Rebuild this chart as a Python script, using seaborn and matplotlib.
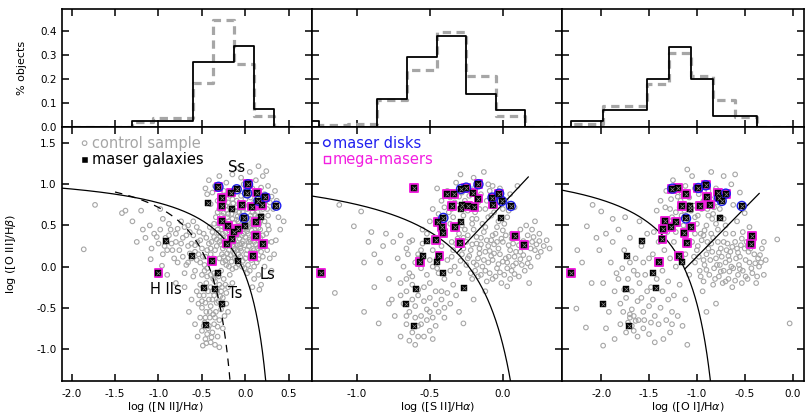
import numpy as np
import pandas as pd
import matplotlib
matplotlib.use("Agg")
import matplotlib.pyplot as plt
import matplotlib.ticker as mticker
import seaborn as sns

# === HISTOGRAMMES (fraction d'objets par bin) ===
nii_edges = [-1.99, -1.76, -1.53, -1.30, -1.065, -0.83, -0.60, -0.368, -0.136, 0.095, 0.325, 0.555]
nii_hist_masers = [0, 0, 0, 0.025, 0.025, 0.025, 0.271, 0.271, 0.337, 0.073, 0]
nii_hist_control = [0, 0, 0, 0.02, 0.035, 0.035, 0.183, 0.446, 0.26, 0.045, 0]

sii_edges = [-1.46, -1.26, -1.06, -0.86, -0.655, -0.45, -0.25, -0.05, 0.155, 0.36]
sii_hist_masers = [0.025, 0, 0, 0.115, 0.29, 0.38, 0.135, 0.07, 0]
sii_hist_control = [0, 0.005, 0.01, 0.11, 0.235, 0.395, 0.213, 0.045, 0]

oi_edges = [-2.40, -2.32, -1.98, -1.75, -1.52, -1.29, -1.06, -0.83, -0.60, -0.375, -0.15, 0.08]
oi_hist_masers = [0, 0.025, 0.07, 0.07, 0.2, 0.335, 0.2, 0.045, 0.045, 0, 0]
oi_hist_control = [0, 0.01, 0.085, 0.085, 0.18, 0.31, 0.21, 0.11, 0.042, 0, 0]

# === CONTROL SAMPLE (cercles gris) ===
nii_control = [
    (-0.30, 0.70), (-0.25, 0.65), (-0.18, 0.72), (-0.12, 0.68), (-0.05, 0.62), (0.02, 0.70), (0.08, 0.66),
    (0.14, 0.60), (-0.28, 0.58), (-0.22, 0.52), (-0.15, 0.58), (-0.08, 0.55), (0.00, 0.52), (0.05, 0.58),
    (0.11, 0.50), (0.17, 0.45), (-0.32, 0.45), (-0.26, 0.40), (-0.19, 0.44), (-0.12, 0.40), (-0.04, 0.45),
    (0.03, 0.40), (0.09, 0.36), (0.15, 0.32), (-0.30, 0.30), (-0.24, 0.25), (-0.17, 0.30), (-0.10, 0.26),
    (-0.03, 0.31), (0.04, 0.25), (0.10, 0.20), (0.18, 0.18), (-0.27, 0.15), (-0.20, 0.10), (-0.13, 0.16),
    (-0.06, 0.12), (0.01, 0.15), (0.07, 0.08), (0.13, 0.05), (-0.22, 0.02), (-0.15, -0.03), (-0.08, 0.03),
    (-0.01, -0.02), (0.05, -0.05), (-0.34, 0.60), (-0.36, 0.36), (-0.35, 0.20), (0.20, 0.70), (0.22, 0.55),
    (0.24, 0.40), (0.21, 0.28), (-0.20, 0.78), (-0.10, 0.80), (0.00, 0.82), (0.10, 0.78), (0.18, 0.84),
    (-0.28, 0.84), (-0.27, 0.62), (-0.21, 0.60), (-0.16, 0.64), (-0.09, 0.61), (-0.02, 0.58), (0.06, 0.62),
    (0.12, 0.56), (-0.24, 0.47), (-0.17, 0.50), (-0.11, 0.47), (-0.06, 0.50), (0.01, 0.47), (0.07, 0.44),
    (0.13, 0.41), (-0.29, 0.37), (-0.21, 0.35), (-0.14, 0.36), (-0.07, 0.34), (0.00, 0.36), (0.06, 0.31),
    (0.12, 0.27), (-0.26, 0.22), (-0.19, 0.20), (-0.12, 0.22), (-0.05, 0.19), (0.02, 0.20), (0.08, 0.14),
    (-0.23, 0.07), (-0.16, 0.06), (-0.10, 0.09), (-0.03, 0.07), (0.03, 0.02), (-0.18, 0.26), (-0.08, 0.15),
    (-0.01, 0.26), (0.10, 0.30), (-0.13, 0.53), (-0.03, 0.66), (0.04, 0.48), (0.16, 0.52), (-0.22, 0.69),
    (0.09, 0.72), (-0.31, 0.52), (-0.33, 0.25), (-0.11, 0.72), (0.14, 0.66), (-0.04, 0.38), (0.16, 0.24),
    (-0.25, 0.33), (-0.07, 0.27),
    (-0.29, 0.76), (-0.23, 0.74), (-0.14, 0.77), (-0.06, 0.71), (0.04, 0.75), (0.12, 0.71), (0.19, 0.62),
    (-0.26, 0.56), (-0.19, 0.55), (-0.10, 0.57), (-0.01, 0.62), (0.08, 0.53), (0.15, 0.47), (0.20, 0.38),
    (-0.31, 0.41), (-0.23, 0.42), (-0.15, 0.42), (-0.08, 0.43), (0.02, 0.43), (0.10, 0.41), (0.17, 0.35),
    (-0.28, 0.27), (-0.20, 0.29), (-0.13, 0.30), (-0.04, 0.28), (0.05, 0.33), (0.14, 0.22), (0.20, 0.12),
    (-0.25, 0.12), (-0.17, 0.14), (-0.09, 0.20), (0.00, 0.10), (0.09, 0.22), (0.15, 0.09), (-0.19, 0.00),
    (-0.11, -0.01), (-0.04, 0.00), (0.02, -0.08), (0.10, 0.00), (-0.26, 0.05), (-0.30, 0.10), (-0.33, 0.33),
    (-0.32, 0.66), (-0.24, 0.80), (-0.15, 0.82), (-0.05, 0.86), (0.06, 0.84), (0.14, 0.88), (0.25, 0.70),
    (0.26, 0.62), (0.27, 0.45), (0.24, 0.30), (-0.12, 0.10), (-0.02, 0.40), (0.07, 0.50), (-0.16, 0.46),
    (-0.27, 0.49), (-0.20, 0.64), (-0.07, 0.66), (0.03, 0.56), (0.11, 0.63), (0.17, 0.56), (-0.09, 0.38),
    (0.04, 0.30), (-0.21, 0.16), (-0.06, 0.22), (0.06, 0.17), (-0.14, 0.25), (0.13, 0.35), (-0.36, 0.52),
    (-0.38, 0.42), (-0.39, 0.30), (-0.40, 0.22), (-0.37, 0.10),
    (-0.42, 1.05), (-0.35, 0.98), (-0.30, 1.10), (-0.22, 1.02), (-0.15, 1.12), (-0.05, 1.08), (0.05, 1.15),
    (0.12, 1.05), (0.20, 1.10), (0.26, 0.98), (-0.38, 0.90), (-0.25, 0.92), (-0.12, 0.95), (0.00, 0.92),
    (0.08, 0.95), (0.22, 0.88), (0.30, 0.85), (0.34, 0.92), (-0.44, 0.88), (-0.08, 1.20), (0.15, 1.22),
    (0.24, 1.16), (-0.18, 0.86), (0.04, 0.88), (0.28, 0.78), (0.32, 0.70), (-0.40, 0.76), (-0.46, 0.95),
    (-0.02, 1.00), (0.18, 0.96), (-0.32, 0.80), (0.36, 0.80),
    (-1.10, 0.50), (-1.05, 0.40), (-0.98, 0.45), (-0.92, 0.35), (-0.88, 0.52), (-0.85, 0.28), (-0.80, 0.40),
    (-0.76, 0.20), (-0.72, 0.35), (-0.70, 0.48), (-0.66, 0.25), (-0.62, 0.10), (-0.60, 0.38), (-0.58, 0.18),
    (-0.55, 0.30), (-0.52, 0.05), (-0.50, 0.22), (-0.48, 0.40), (-0.46, 0.12), (-0.44, -0.02), (-0.42, 0.28),
    (-0.40, 0.15), (-0.38, 0.05), (-0.36, -0.08), (-0.90, 0.20), (-0.95, 0.15), (-1.00, 0.28), (-0.82, 0.10),
    (-0.78, 0.05), (-0.68, 0.02), (-0.64, 0.42), (-0.74, 0.55), (-0.56, 0.48), (-0.50, -0.10), (-0.58, -0.05),
    (-0.70, -0.08), (-0.86, 0.45), (-0.95, 0.58), (-0.60, 0.55), (-0.53, 0.42), (-0.45, 0.35), (-0.41, 0.48),
    (-1.15, 0.35), (-1.08, 0.22), (-0.47, 0.02), (-0.54, 0.15), (-0.62, 0.28), (-0.72, 0.12), (-0.80, 0.30),
    (-0.66, 0.50), (-0.88, 0.38), (-0.78, 0.46), (-0.68, 0.38), (-0.58, 0.26), (-0.52, 0.32), (-0.64, 0.16),
    (-0.74, 0.28), (-0.84, 0.20), (-0.56, 0.08), (-0.49, 0.12), (-0.44, 0.20), (-1.02, 0.36), (-0.93, 0.25),
    (-0.66, 0.05), (-0.60, -0.12),
    (-0.45, -0.20), (-0.40, -0.25), (-0.35, -0.18), (-0.30, -0.22), (-0.25, -0.15), (-0.20, -0.25),
    (-0.48, -0.35), (-0.42, -0.40), (-0.36, -0.35), (-0.31, -0.42), (-0.26, -0.38), (-0.50, -0.50),
    (-0.45, -0.55), (-0.40, -0.48), (-0.34, -0.55), (-0.28, -0.52), (-0.22, -0.45), (-0.52, -0.62),
    (-0.47, -0.68), (-0.41, -0.62), (-0.36, -0.70), (-0.30, -0.65), (-0.50, -0.78), (-0.44, -0.82),
    (-0.38, -0.80), (-0.32, -0.85), (-0.46, -0.88), (-0.40, -0.92), (-0.35, -0.95), (-0.54, -0.45),
    (-0.56, -0.30), (-0.52, -0.22), (-0.33, -0.10), (-0.28, -0.05), (-0.18, -0.10), (-0.15, -0.20),
    (-0.22, -0.32), (-0.38, -0.30), (-0.44, -0.12), (-0.48, -0.25), (-0.28, -0.30), (-0.24, -0.60),
    (-0.26, -0.75), (-0.55, -0.85), (-0.30, -0.98), (-0.58, -0.70), (-0.42, -0.72), (-0.37, -0.58),
    (-0.33, -0.44), (-0.46, -0.44), (-0.20, -0.55), (-0.49, -0.96), (-0.43, -0.30), (-0.38, -0.40),
    (-0.33, -0.30), (-0.41, -0.55), (-0.46, -0.62), (-0.35, -0.62), (-0.43, -0.75), (-0.39, -0.86),
    (-0.45, -0.93), (-0.29, -0.36), (-0.50, -0.42), (-0.37, -0.15), (-0.31, -0.12), (-0.27, -0.25),
    (-0.23, -0.22), (-0.40, -0.10), (-0.47, -0.05), (-0.53, -0.35), (-0.32, -0.73), (-0.48, -0.72),
    (0.25, 0.20), (0.30, 0.30), (0.35, 0.32), (0.40, 0.45), (0.28, 0.10), (0.22, 0.00), (0.15, -0.10),
    (0.10, -0.15), (0.18, -0.22), (0.30, -0.05), (0.38, 0.60), (0.44, 0.55), (0.26, 0.50), (0.33, 0.15),
    (0.16, -0.28), (0.08, -0.25),
    (-1.86, 0.21), (-1.73, 0.75), (-1.42, 0.65), (-1.38, 0.68), (-1.20, 0.68), (-1.09, 0.09), (-0.96, 0.01),
    (-1.18, 0.45), (-1.30, 0.55), (-0.90, -0.10), (-0.80, -0.20), (-0.70, -0.25), (-0.62, -0.40),
    (-0.65, -0.55), (-1.25, 0.30), (-0.98, 0.70),
]

sii_control = [
    (-0.42, 0.80), (-0.38, 0.92), (-0.35, 0.70), (-0.32, 1.02), (-0.30, 0.85), (-0.27, 0.62), (-0.25, 0.95),
    (-0.22, 0.75), (-0.20, 1.08), (-0.18, 0.58), (-0.15, 0.88), (-0.12, 0.70), (-0.10, 1.00), (-0.08, 0.62),
    (-0.05, 0.82), (-0.02, 0.95), (0.00, 0.70), (0.03, 0.60), (0.05, 0.88), (-0.40, 0.60), (-0.36, 0.52),
    (-0.33, 0.78), (-0.28, 0.50), (-0.24, 0.68), (-0.17, 0.78), (-0.14, 0.52), (-0.07, 0.74), (-0.03, 0.55),
    (0.02, 0.80), (-0.29, 1.12), (-0.13, 1.15), (-0.45, 0.95), (-0.48, 0.70), (-0.50, 0.55), (0.08, 0.72),
    (0.10, 0.98), (-0.23, 0.86), (-0.09, 0.92), (-0.37, 0.66), (-0.19, 0.66), (-0.40, 0.72), (-0.34, 0.60),
    (-0.31, 0.74), (-0.26, 0.80), (-0.21, 0.58), (-0.16, 0.70), (-0.11, 0.80), (-0.06, 0.66), (-0.01, 0.76),
    (0.04, 0.68), (-0.28, 0.90), (-0.19, 0.96), (-0.07, 0.98), (-0.44, 0.64), (-0.36, 0.84), (-0.21, 0.52),
    (-0.10, 0.60), (0.01, 0.52),
    (-0.30, 0.40), (-0.25, 0.30), (-0.20, 0.45), (-0.15, 0.35), (-0.10, 0.25), (-0.05, 0.40), (0.00, 0.30),
    (0.05, 0.20), (0.10, 0.35), (0.15, 0.25), (0.20, 0.30), (-0.28, 0.15), (-0.22, 0.20), (-0.17, 0.10),
    (-0.12, 0.18), (-0.07, 0.08), (-0.02, 0.15), (0.03, 0.05), (0.08, 0.12), (0.13, 0.02), (0.18, 0.10),
    (-0.25, 0.02), (-0.19, -0.05), (-0.14, 0.00), (-0.09, -0.08), (-0.04, -0.02), (0.01, -0.10),
    (0.06, -0.05), (0.11, -0.12), (-0.21, -0.15), (-0.11, -0.18), (-0.01, -0.20), (-0.32, 0.28),
    (-0.27, 0.35), (-0.18, 0.28), (-0.13, 0.42), (-0.08, 0.32), (-0.03, 0.22), (0.02, 0.38), (0.07, 0.28),
    (0.12, 0.18), (0.17, 0.38), (0.22, 0.20), (-0.24, 0.10), (-0.16, 0.22), (-0.06, 0.16), (0.04, 0.12),
    (0.09, 0.04), (0.14, 0.14), (-0.20, 0.05), (-0.10, 0.05), (0.00, 0.06), (-0.15, -0.10), (-0.05, -0.12),
    (0.05, -0.15), (0.25, 0.40), (0.28, 0.25), (0.24, 0.12), (0.19, 0.00), (-0.35, 0.12), (-0.33, 0.00),
    (-0.30, -0.08), (-0.26, 0.45), (-0.04, 0.48), (0.12, 0.45), (0.16, 0.50),
    (-0.27, 0.22), (-0.21, 0.27), (-0.16, 0.16), (-0.11, 0.32), (-0.06, 0.27), (-0.01, 0.34), (0.04, 0.26),
    (0.09, 0.18), (0.14, 0.31), (0.19, 0.22), (-0.29, 0.07), (-0.23, 0.13), (-0.18, 0.02), (-0.13, 0.08),
    (-0.08, 0.13), (-0.03, 0.03), (0.02, 0.10), (0.07, 0.01), (0.12, 0.09), (0.17, 0.04), (-0.22, -0.08),
    (-0.17, -0.12), (-0.12, -0.05), (-0.07, -0.15), (-0.02, -0.07), (0.03, -0.02), (0.08, -0.09),
    (0.15, -0.05), (-0.24, 0.38), (-0.18, 0.36), (-0.12, 0.48), (-0.07, 0.38), (0.00, 0.44), (0.06, 0.40),
    (0.11, 0.26), (0.21, 0.36), (0.23, 0.27), (0.26, 0.18), (0.20, 0.45), (-0.34, 0.20), (-0.31, 0.34),
    (-0.04, 0.30), (0.06, 0.34), (-0.09, 0.19), (-0.15, 0.27),
    (-0.80, 0.40), (-0.75, 0.30), (-0.70, 0.38), (-0.66, 0.22), (-0.62, 0.32), (-0.58, 0.15), (-0.55, 0.28),
    (-0.52, 0.40), (-0.48, 0.20), (-0.45, 0.10), (-0.42, 0.25), (-0.38, 0.08), (-0.72, 0.10), (-0.68, 0.00),
    (-0.64, -0.08), (-0.60, 0.05), (-0.56, -0.02), (-0.52, -0.10), (-0.48, 0.00), (-0.44, -0.08),
    (-0.40, -0.15), (-0.36, -0.05), (-0.70, -0.20), (-0.66, -0.30), (-0.62, -0.22), (-0.58, -0.35),
    (-0.54, -0.25), (-0.50, -0.38), (-0.46, -0.30), (-0.42, -0.40), (-0.38, -0.32), (-0.34, -0.22),
    (-0.68, -0.45), (-0.64, -0.55), (-0.60, -0.48), (-0.56, -0.60), (-0.52, -0.52), (-0.48, -0.62),
    (-0.44, -0.55), (-0.40, -0.50), (-0.66, -0.70), (-0.62, -0.80), (-0.58, -0.72), (-0.54, -0.85),
    (-0.50, -0.78), (-0.46, -0.72), (-0.70, -0.85), (-0.64, -0.90), (-0.74, -0.60), (-0.76, -0.40),
    (-0.78, -0.15), (-0.84, 0.05), (-0.82, 0.25), (-0.46, 0.35), (-0.40, 0.40), (-0.35, 0.30),
    (-0.32, -0.35), (-0.36, -0.45), (-0.30, -0.55), (-0.55, 0.45), (-0.60, -0.95), (-0.58, 0.10),
    (-0.50, 0.08), (-0.65, 0.15), (-0.62, -0.12), (-0.58, -0.28), (-0.54, -0.42), (-0.50, -0.55),
    (-0.46, -0.46), (-0.42, -0.30), (-0.60, -0.62), (-0.56, -0.70), (-0.52, -0.65), (-0.62, -0.40),
    (-0.66, -0.15), (-0.50, -0.20), (-0.45, -0.02), (-0.56, 0.20), (-0.64, 0.30), (-0.70, -0.35),
    (-0.66, -0.60), (-0.58, -0.85), (-0.48, -0.88), (-0.40, -0.62),
    (-1.12, 0.75), (-0.97, 0.67), (-1.02, 0.49), (-0.90, 0.42), (-0.92, 0.30), (-0.88, 0.15), (-0.78, -0.45),
    (-0.85, -0.69), (-0.95, 0.05), (-0.88, -0.25), (0.25, 0.31), (0.30, 0.32), (0.03, -0.24), (-0.27, -0.69),
    (-0.20, -0.40), (-0.12, -0.30), (0.18, -0.20), (-1.15, -0.32), (-0.95, -0.55), (0.22, 0.55), (0.32, 0.22),
]

oi_control = [
    (-1.38, 0.80), (-1.32, 0.92), (-1.28, 0.70), (-1.25, 1.05), (-1.20, 0.85), (-1.16, 0.62), (-1.12, 0.98),
    (-1.08, 0.75), (-1.05, 1.10), (-1.02, 0.60), (-0.98, 0.88), (-0.95, 0.70), (-0.92, 1.02), (-0.88, 0.62),
    (-0.85, 0.82), (-0.80, 0.95), (-0.76, 0.70), (-0.72, 0.58), (-0.68, 0.88), (-0.64, 1.00), (-1.35, 0.55),
    (-1.30, 0.48), (-1.26, 0.60), (-1.22, 0.42), (-1.18, 0.72), (-1.14, 0.50), (-1.10, 0.58), (-1.04, 0.45),
    (-1.00, 0.52), (-0.96, 0.40), (-0.90, 0.50), (-0.84, 0.58), (-0.78, 0.45), (-0.74, 0.82), (-0.70, 0.40),
    (-0.62, 0.75), (-0.58, 0.55), (-0.55, 0.90), (-0.50, 0.65), (-1.42, 0.68), (-1.45, 0.42), (-1.40, 0.30),
    (-1.10, 1.18), (-0.85, 1.15), (-0.72, 1.10), (-0.60, 1.12), (-1.20, 0.95), (-0.94, 0.78), (-1.06, 0.68),
    (-0.82, 0.72), (-1.34, 0.38), (-1.24, 0.30), (-1.33, 0.72), (-1.27, 0.82), (-1.22, 0.66), (-1.17, 0.80),
    (-1.13, 0.68), (-1.08, 0.84), (-1.03, 0.74), (-0.99, 0.62), (-0.93, 0.80), (-0.89, 0.70), (-0.83, 0.64),
    (-0.79, 0.78), (-0.75, 0.60), (-1.29, 0.56), (-1.20, 0.52), (-1.12, 0.45), (-1.02, 0.40), (-0.92, 0.44),
    (-0.80, 0.52), (-0.70, 0.50), (-1.16, 0.90), (-1.02, 0.95), (-0.88, 0.92), (-1.31, 0.42), (-1.25, 0.46),
    (-1.05, 0.30), (-1.00, 0.20), (-0.95, 0.32), (-0.90, 0.15), (-0.85, 0.28), (-0.80, 0.10), (-0.75, 0.22),
    (-0.70, 0.05), (-0.65, 0.18), (-0.60, 0.30), (-0.55, 0.12), (-0.50, 0.22), (-0.45, 0.05), (-0.40, 0.15),
    (-0.35, 0.00), (-1.02, 0.05), (-0.97, -0.05), (-0.92, 0.02), (-0.87, -0.10), (-0.82, -0.02),
    (-0.77, -0.12), (-0.72, -0.05), (-0.67, -0.15), (-0.62, -0.02), (-0.57, -0.10), (-0.52, -0.05),
    (-0.47, -0.15), (-0.42, -0.08), (-0.98, 0.12), (-0.88, 0.22), (-0.78, 0.30), (-0.68, 0.28), (-0.58, 0.22),
    (-0.48, 0.30), (-0.93, -0.18), (-0.83, -0.22), (-0.73, -0.20), (-0.63, -0.25), (-0.53, -0.20),
    (-0.38, -0.20), (-0.32, 0.22), (-0.30, -0.10), (-0.62, 0.40), (-0.52, 0.42), (-0.42, 0.38), (-0.85, 0.40),
    (-0.76, 0.02), (-0.66, 0.08), (-0.56, 0.02), (-0.46, 0.18), (-0.36, 0.10), (-0.28, 0.08), (-0.94, -0.30),
    (-1.08, -0.10), (-1.12, 0.15),
    (-0.99, 0.25), (-0.93, 0.08), (-0.89, 0.30), (-0.84, 0.18), (-0.79, 0.02), (-0.74, 0.12), (-0.69, 0.20),
    (-0.64, 0.00), (-0.59, 0.10), (-0.54, 0.26), (-0.49, 0.08), (-0.44, 0.22), (-0.39, 0.04), (-0.34, 0.14),
    (-0.96, -0.12), (-0.90, -0.04), (-0.81, -0.15), (-0.75, -0.06), (-0.70, -0.18), (-0.66, -0.06),
    (-0.60, -0.17), (-0.55, -0.03), (-0.49, -0.12), (-0.43, -0.02), (-0.86, 0.08), (-0.77, 0.17),
    (-0.67, 0.13), (-0.57, 0.17), (-0.47, 0.25), (-0.41, 0.30), (-0.37, -0.12), (-0.33, 0.05), (-0.72, 0.30),
    (-0.83, 0.35), (-0.93, 0.38), (-1.03, 0.12), (-0.63, 0.24), (-0.53, 0.34),
    (-1.95, 0.40), (-1.88, 0.30), (-1.82, 0.45), (-1.76, 0.20), (-1.70, 0.35), (-1.64, 0.10), (-1.58, 0.25),
    (-1.52, 0.40), (-1.46, 0.15), (-1.40, 0.05), (-1.34, 0.20), (-1.28, 0.10), (-1.22, 0.00), (-1.16, 0.12),
    (-1.90, 0.05), (-1.84, -0.08), (-1.78, -0.02), (-1.72, -0.15), (-1.66, -0.05), (-1.60, -0.20),
    (-1.54, -0.10), (-1.48, -0.25), (-1.42, -0.15), (-1.36, -0.30), (-1.30, -0.18), (-1.24, -0.35),
    (-1.18, -0.22), (-1.12, -0.40), (-1.86, -0.30), (-1.80, -0.45), (-1.74, -0.38), (-1.68, -0.52),
    (-1.62, -0.42), (-1.56, -0.55), (-1.50, -0.48), (-1.44, -0.60), (-1.38, -0.50), (-1.32, -0.65),
    (-1.26, -0.55), (-1.80, -0.70), (-1.74, -0.80), (-1.68, -0.72), (-1.62, -0.85), (-1.56, -0.75),
    (-1.50, -0.82), (-1.44, -0.92), (-1.70, -0.62), (-1.66, -0.60), (-1.64, -0.66), (-1.70, -0.58),
    (-1.92, -0.55), (-1.98, -0.20), (-2.02, 0.20), (-1.20, -0.60), (-1.15, -0.72), (-1.28, -0.80),
    (-1.35, -0.88), (-1.86, -0.88), (-1.95, -0.75), (-1.77, -0.55), (-1.72, -0.68), (-1.66, -0.78),
    (-1.61, -0.65), (-1.55, -0.65), (-1.58, -0.38), (-1.52, -0.30), (-1.46, -0.40), (-1.40, -0.70),
    (-1.48, -0.68), (-1.82, -0.15), (-1.76, -0.28), (-1.68, -0.30), (-1.62, -0.10), (-1.70, 0.05),
    (-1.56, 0.05), (-1.50, 0.10), (-1.36, -0.05), (-1.30, -0.40), (-1.26, -0.70),
    (-2.25, 0.20), (-2.09, 0.75), (-2.00, 0.67), (-2.15, 0.49), (-2.26, -0.51), (-2.16, -0.74), (-1.98, -0.96),
    (-0.16, 0.33), (-0.03, -0.69), (-2.05, 0.35), (-1.88, 0.58), (-1.75, 0.60), (-1.60, 0.55), (-2.10, -0.20),
    (-1.10, -0.95), (-0.80, -0.45), (-0.90, -0.55), (-0.45, 0.48), (-0.30, 0.30), (-2.20, 0.05),
]

# === MASER GALAXIES : (x, y, type)  M = mega-maser, D = maser disk ===
nii_masers = [
    (-0.31, 0.97, "MD"), (-0.17, 0.90, "M"), (-0.10, 0.94, "D"), (0.03, 1.00, "MD"), (0.02, 0.89, "D"),
    (0.13, 0.90, "M"), (0.23, 0.84, "MD"), (0.15, 0.80, "D"), (0.19, 0.75, "M"), (0.355, 0.74, "D"),
    (-0.27, 0.835, "M"), (-0.275, 0.74, "M"), (-0.43, 0.77, ""), (-0.16, 0.70, ""), (-0.045, 0.75, "M"),
    (0.08, 0.73, "M"), (0.175, 0.60, ""), (-0.015, 0.59, "D"), (-0.275, 0.55, "M"), (-0.20, 0.49, "M"),
    (-0.085, 0.455, "M"), (-0.13, 0.42, "M"), (-0.01, 0.495, ""), (0.12, 0.54, "M"), (0.12, 0.37, "M"),
    (-0.16, 0.335, "M"), (-0.215, 0.28, "M"), (0.20, 0.27, "M"), (0.09, 0.13, "M"), (-0.085, 0.07, ""),
    (-0.38, 0.07, "M"), (-0.31, -0.075, ""), (-0.62, 0.13, ""), (-0.91, 0.31, ""), (-1.00, -0.08, "M"),
    (-0.48, -0.26, ""), (-0.35, -0.27, ""), (-0.27, -0.455, ""), (-0.45, -0.715, ""),
]

sii_masers = [
    (-0.61, 0.96, "M"), (-0.384, 0.887, "M"), (-0.332, 0.887, "M"), (-0.286, 0.943, "D"),
    (-0.251, 0.96, "MD"), (-0.167, 1.00, "MD"), (-0.201, 0.90, "M"), (-0.167, 0.827, "M"),
    (-0.35, 0.734, "M"), (-0.28, 0.746, ""), (-0.288, 0.697, ""), (-0.236, 0.737, "M"), (-0.197, 0.725, "M"),
    (-0.071, 0.839, "MD"), (-0.025, 0.887, "MD"), (-0.007, 0.798, "D"), (-0.068, 0.754, "M"),
    (0.055, 0.737, "D"), (-0.012, 0.592, ""), (-0.407, 0.592, "D"), (-0.445, 0.544, "M"), (-0.418, 0.483, "M"),
    (-0.407, 0.41, "M"), (-0.327, 0.483, "M"), (-0.288, 0.536, ""), (-0.457, 0.322, "M"), (-0.52, 0.31, ""),
    (-0.292, 0.282, "M"), (0.084, 0.37, "M"), (0.146, 0.262, "M"), (-0.434, 0.132, "M"), (-0.548, 0.132, ""),
    (-0.566, 0.06, "M"), (-0.452, 0.06, ""), (-0.407, -0.074, ""), (-1.247, -0.081, "M"), (-0.594, -0.275, ""),
    (-0.263, -0.263, ""), (-0.662, -0.453, ""), (-0.605, -0.72, ""),
]

oi_masers = [
    (-1.256, 0.948, "MD"), (-1.196, 0.96, "M"), (-1.113, 0.887, "M"), (-0.984, 0.955, "MD"),
    (-0.907, 0.988, "MD"), (-0.782, 0.90, "M"), (-0.698, 0.887, "MD"), (-0.768, 0.839, "MD"),
    (-0.74, 0.798, "D"), (-0.897, 0.846, "M"), (-0.862, 0.754, "M"), (-0.967, 0.737, "M"), (-1.158, 0.734, "M"),
    (-1.071, 0.734, ""), (-1.071, 0.697, ""), (-0.531, 0.737, "D"), (-0.758, 0.592, ""), (-1.113, 0.585, "D"),
    (-1.332, 0.552, "M"), (-1.217, 0.544, "M"), (-1.356, 0.455, "M"), (-1.27, 0.483, "M"), (-1.06, 0.483, "M"),
    (-1.13, 0.41, "M"), (-1.36, 0.33, "M"), (-1.569, 0.31, ""), (-1.10, 0.282, "M"), (-0.42, 0.37, "M"),
    (-0.437, 0.27, "M"), (-1.732, 0.132, ""), (-1.183, 0.132, "M"), (-1.395, 0.06, "M"), (-1.151, 0.06, ""),
    (-1.46, -0.074, ""), (-2.313, -0.081, "M"), (-1.426, -0.263, ""), (-1.746, -0.275, ""),
    (-1.986, -0.456, ""), (-1.708, -0.72, ""),
]

# === LIGNES DE SEPARATION (Kewley 2001/2006, Kauffmann 2003) ===
# a/(x-b)+c ; droite Seyfert/LINER m*x+k jusqu'a x_end
panels = [
    dict(name="nii", xlim=(-2.11, 0.76), xticks=[-2.0, -1.5, -1.0, -0.5, 0.0, 0.5],
         xlabel="log ([N II]/H$\\alpha$)", xlab_pos=0.413, kew=(0.61, 0.47, 1.19), kew_x0=-2.2,
         edges=nii_edges, h_masers=nii_hist_masers, h_control=nii_hist_control,
         control=nii_control, masers=nii_masers, seyf=None),
    dict(name="sii", xlim=(-1.31, 0.405), xticks=[-1.0, -0.5, 0.0],
         xlabel="log ([S II]/H$\\alpha$)", xlab_pos=0.503, kew=(0.72, 0.32, 1.30), kew_x0=-1.4,
         edges=sii_edges, h_masers=sii_hist_masers, h_control=sii_hist_control,
         control=sii_control, masers=sii_masers, seyf=(1.89, 0.76, 0.175)),
    dict(name="oi", xlim=(-2.41, 0.12), xticks=[-2.0, -1.5, -1.0, -0.5, 0.0],
         xlabel="log ([O I]/H$\\alpha$)", xlab_pos=0.519, kew=(0.73, -0.59, 1.33), kew_x0=-2.5,
         edges=oi_edges, h_masers=oi_hist_masers, h_control=oi_hist_control,
         control=oi_control, masers=oi_masers, seyf=(1.18, 1.30, -0.347)),
]

GRAY = "#a6a6a6"
MAGENTA = "#f21ee0"
BLUE = "#1f1ff0"
YLIM = (-1.39, 1.70)

sns.set_style("ticks")
plt.rcParams["font.family"] = ["DejaVu Sans"]
plt.rcParams.update({
    "axes.linewidth": 1.2, "axes.edgecolor": "black", "axes.labelcolor": "black",
    "xtick.color": "black", "ytick.color": "black", "text.color": "black",
})

fig = plt.figure(figsize=(8.05, 4.18), dpi=100)
lefts = [62 / 805, 311.5 / 805, 562 / 805]
rights = [311.5 / 805, 562 / 805, 804 / 805]


def style_ticks(ax):
    ax.tick_params(direction="in", top=True, right=True, length=5, width=1.1,
                   labelsize=7.5, pad=4)


def step_frame(edges, heights):
    # contour en escalier : chaque bin garde sa hauteur jusqu'au bord suivant
    return pd.DataFrame({"x": list(edges), "y": list(heights) + [heights[-1]]})


for i, p in enumerate(panels):
    w = rights[i] - lefts[i]
    ax_h = fig.add_axes([lefts[i], 0.6969, w, 0.2816])
    ax = fig.add_axes([lefts[i], 0.0885, w, 0.6084])

    # --- histogrammes ---
    sns.lineplot(data=step_frame(p["edges"], p["h_control"]), x="x", y="y", estimator=None, sort=False,
                 drawstyle="steps-post", color=GRAY, linewidth=2.3, dashes=(2.6, 1.7), ax=ax_h)
    sns.lineplot(data=step_frame(p["edges"], p["h_masers"]), x="x", y="y", estimator=None, sort=False,
                 drawstyle="steps-post", color="black", linewidth=1.3, ax=ax_h)
    ax_h.set_xlim(p["xlim"])
    ax_h.set_ylim(0, 0.492)
    ax_h.set_xticks(p["xticks"])
    ax_h.set_yticks([0.0, 0.1, 0.2, 0.3, 0.4])
    ax_h.yaxis.set_major_formatter(mticker.FormatStrFormatter("%.1f"))
    style_ticks(ax_h)
    ax_h.tick_params(labelbottom=False, labelleft=(i == 0))
    ax_h.set_xlabel("")
    if i == 0:
        ax_h.set_ylabel("% objects", fontsize=8)
        ax_h.yaxis.set_label_coords(-0.14, 0.5)
    else:
        ax_h.set_ylabel("")

    # --- control sample ---
    ctrl = pd.DataFrame(p["control"], columns=["x", "y"])
    sns.scatterplot(data=ctrl, x="x", y="y", marker="o", s=11, facecolors="none",
                    edgecolor=GRAY, linewidth=0.8, ax=ax, zorder=2)

    # --- demarcation lines ---
    a, b, c = p["kew"]
    x_end = b + a / (YLIM[0] - 0.05 - c)
    xs = np.linspace(p["kew_x0"], x_end, 400)
    ax.plot(xs, a / (xs - b) + c, color="black", lw=0.9, zorder=3)
    if p["name"] == "nii":
        ka, kb, kc = 0.61, 0.05, 1.30
        xk = np.linspace(-1.5, kb + ka / (YLIM[0] - 0.05 - kc), 300)
        ax.plot(xk, ka / (xk - kb) + kc, color="black", lw=0.9, dashes=(6, 5), zorder=3)
    if p["seyf"] is not None:
        m, k, xe = p["seyf"]
        roots = np.roots([m, k - c - m * b, -(k - c) * b - a])
        x0 = roots[roots < b].real.max()
        xl = np.array([x0, xe])
        ax.plot(xl, m * xl + k, color="black", lw=0.9, zorder=3)

    # --- maser galaxies ---
    mas = pd.DataFrame(p["masers"], columns=["x", "y", "kind"])
    mega = mas[mas["kind"].str.contains("M")]
    disk = mas[mas["kind"].str.contains("D")]
    sns.scatterplot(data=mega, x="x", y="y", marker="s", s=32, facecolors="none",
                    edgecolor=MAGENTA, linewidth=1.4, ax=ax, zorder=4)
    sns.scatterplot(data=disk, x="x", y="y", marker="o", s=42, facecolors="none",
                    edgecolor=BLUE, linewidth=1.0, ax=ax, zorder=5)
    sns.scatterplot(data=mas, x="x", y="y", marker="s", s=14, color="black",
                    edgecolor="black", linewidth=0.3, ax=ax, zorder=6)
    sns.scatterplot(data=mas, x="x", y="y", marker="x", s=8, color="#8a8a8a",
                    linewidth=0.5, ax=ax, zorder=7)

    ax.set_xlim(p["xlim"])
    ax.set_ylim(YLIM)
    ax.set_xticks(p["xticks"])
    ax.set_yticks([-1.0, -0.5, 0.0, 0.5, 1.0, 1.5])
    ax.xaxis.set_major_formatter(mticker.FormatStrFormatter("%.1f"))
    ax.yaxis.set_major_formatter(mticker.FormatStrFormatter("%.1f"))
    style_ticks(ax)
    ax.tick_params(axis="x", pad=6)
    ax.tick_params(labelleft=(i == 0))
    ax.set_xlabel(p["xlabel"], fontsize=8)
    ax.xaxis.set_label_coords(p["xlab_pos"], -0.075)
    if i == 0:
        ax.set_ylabel("log ([O III]/H$\\beta$)", fontsize=8)
        ax.yaxis.set_label_coords(-0.175, 0.5)
    else:
        ax.set_ylabel("")

    # --- legendes / etiquettes ---
    if p["name"] == "nii":
        sns.scatterplot(x=[-1.85], y=[1.50], marker="o", s=11, facecolors="none",
                        edgecolor=GRAY, linewidth=0.8, ax=ax)
        ax.text(-1.76, 1.50, "control sample", color=GRAY, fontsize=10.5, va="center")
        sns.scatterplot(x=[-1.85], y=[1.30], marker="s", s=14, color="black", ax=ax)
        ax.text(-1.76, 1.30, "maser galaxies", color="black", fontsize=10.5, va="center")
        ax.text(-0.10, 1.20, "Ss", fontsize=10.5, ha="center", va="center")
        ax.text(0.25, -0.09, "Ls", fontsize=10.5, ha="center", va="center")
        ax.text(-0.12, -0.33, "Ts", fontsize=10.5, ha="center", va="center")
        ax.text(-0.92, -0.28, "H IIs", fontsize=10.5, ha="center", va="center")
    if p["name"] == "sii":
        sns.scatterplot(x=[-1.205], y=[1.50], marker="o", s=22, facecolors="none",
                        edgecolor=BLUE, linewidth=1.0, ax=ax)
        ax.text(-1.165, 1.50, "maser disks", color=BLUE, fontsize=10.5, va="center")
        sns.scatterplot(x=[-1.205], y=[1.30], marker="s", s=22, facecolors="none",
                        edgecolor=MAGENTA, linewidth=1.0, ax=ax)
        ax.text(-1.165, 1.30, "mega-masers", color=MAGENTA, fontsize=10.5, va="center")

fig.savefig("out.png", dpi=100)
plt.close(fig)
